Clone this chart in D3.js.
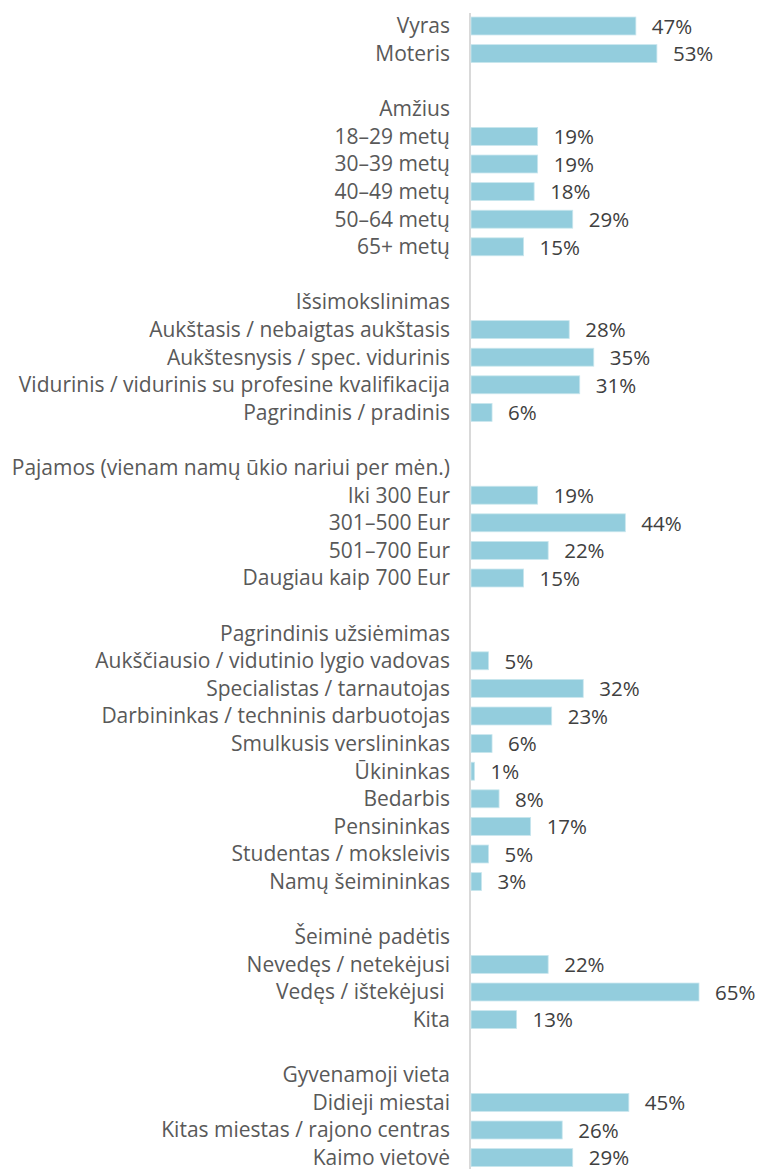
<!DOCTYPE html>
<html>
<head>
<meta charset="utf-8">
<script src="https://cdn.jsdelivr.net/npm/d3@7"></script>
<style>
  html, body { margin: 0; padding: 0; background: #fff; }
  text { font-family: "Open Sans", sans-serif; white-space: pre; }
</style>
</head>
<body>
<div id="chart"></div>
<script>
// group headers (first group has none)
var groupTitles = ["", "Amžius", "Išsimokslinimas", "Pajamos (vienam namų ūkio nariui per mėn.)",
  "Pagrindinis užsiėmimas", "Šeiminė padėtis", "Gyvenamoji vieta"]

var lytis = ["Vyras", "Moteris"]
var lytisVal = [47, 53]

var amzius = ["18–29 metų", "30–39 metų", "40–49 metų", "50–64 metų", "65+ metų"]
var amziusVal = [19, 19, 18, 29, 15]

var issilavinimas = ["Aukštasis / nebaigtas aukštasis", "Aukštesnysis / spec. vidurinis",
  "Vidurinis / vidurinis su profesine kvalifikacija", "Pagrindinis / pradinis"]
var issilavinimasVal = [28, 35, 31, 6]

var pajamos = ["Iki 300 Eur", "301–500 Eur", "501–700 Eur", "Daugiau kaip 700 Eur"]
var pajamosVal = [19, 44, 22, 15]

var uzsiemimas = ["Aukščiausio / vidutinio lygio vadovas", "Specialistas / tarnautojas",
  "Darbininkas / techninis darbuotojas", "Smulkusis verslininkas", "Ūkininkas", "Bedarbis",
  "Pensininkas", "Studentas / moksleivis", "Namų šeimininkas"]
var uzsiemimasVal = [5, 32, 23, 6, 1, 8, 17, 5, 3]

var seima = ["Nevedęs / netekėjusi", "Vedęs / ištekėjusi ", "Kita"]
var seimaVal = [22, 65, 13]

var vieta = ["Didieji miestai", "Kitas miestas / rajono centras", "Kaimo vietovė"]
var vietaVal = [45, 26, 29]

var groupCats = [lytis, amzius, issilavinimas, pajamos, uzsiemimas, seima, vieta]
var groupVals = [lytisVal, amziusVal, issilavinimasVal, pajamosVal, uzsiemimasVal, seimaVal, vietaVal]

// build row list: blank spacer + header row before each group except first
var rows = []
groupCats.forEach(function (cats, g) {
  if (g > 0) {
    rows.push({ id: "blank" + g, label: "", value: null })
    rows.push({ id: "head" + g, label: groupTitles[g], value: null })
  }
  cats.forEach(function (c, i) {
    rows.push({ id: "r" + g + "_" + i, label: c, value: groupVals[g][i] })
  })
})

var width = 758, height = 1169

var svg = d3.select("#chart")
  .append("svg")
  .attr("width", width)
  .attr("height", height)

var x = d3.scaleLinear()
  .domain([0, 65])
  .range([471, 699])

var y = d3.scaleBand()
  .domain(rows.map(function (d) { return d.id }))
  .range([12.2, 1171.4])
  .paddingInner(0.35)
  .paddingOuter(0.175)

// vertical axis line
svg.append("line")
  .attr("x1", 470).attr("x2", 470)
  .attr("y1", 13).attr("y2", height)
  .attr("stroke", "#d9d9d9")
  .attr("stroke-width", 2)

// bars
svg.selectAll(".bar")
  .data(rows.filter(function (d) { return d.value !== null }))
  .enter()
  .append("rect")
  .attr("class", "bar")
  .attr("x", x(0))
  .attr("y", function (d) { return y(d.id) })
  .attr("width", function (d) { return x(d.value) - x(0) })
  .attr("height", y.bandwidth())
  .attr("fill", "#93cddd")
  .attr("stroke", "#c9e6ee")
  .attr("stroke-width", 0.8)

// category labels
svg.selectAll(".cat")
  .data(rows)
  .enter()
  .append("text")
  .attr("class", "cat")
  .attr("x", 450)
  .attr("y", function (d) { return y(d.id) + y.bandwidth() / 2 })
  .attr("dy", "0.35em")
  .attr("text-anchor", "end")
  .attr("font-size", 21)
  .attr("fill", "#595959")
  .text(function (d) { return d.label })

// value labels
svg.selectAll(".val")
  .data(rows.filter(function (d) { return d.value !== null }))
  .enter()
  .append("text")
  .attr("class", "val")
  .attr("x", function (d) { return x(d.value) + 16 })
  .attr("y", function (d) { return y(d.id) + y.bandwidth() / 2 })
  .attr("dy", "0.38em")
  .attr("font-size", 20.5)
  .attr("fill", "#404040")
  .text(function (d) { return d.value + "%" })
</script>
</body>
</html>
